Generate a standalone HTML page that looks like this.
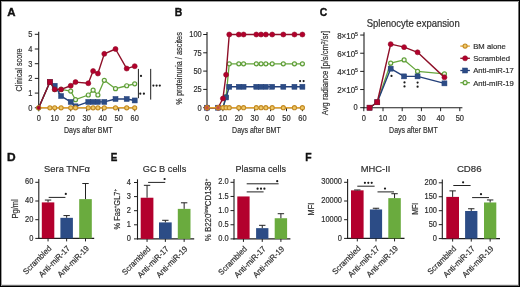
<!DOCTYPE html>
<html><head><meta charset="utf-8"><style>
html,body{margin:0;padding:0;background:#fff;}
#fig{position:relative;width:520px;height:287px;overflow:hidden;background:#fff;}
#fig svg{position:absolute;left:0;top:0;will-change:transform;}
#fig text{font-family:"Liberation Sans", sans-serif;}
.bd{position:absolute;left:0;top:0;width:520px;height:287px;box-sizing:border-box;border:1px solid #000;box-shadow:inset 1px 1px 0 #a0a0a0, inset -1px -1px 0 #707070, inset 0 -2px 0 #e2e2e2;}
</style></head><body>
<div id="fig">
<svg width="520" height="287" viewBox="0 0 520 287" font-family="Liberation Sans, sans-serif">
<text transform="translate(7.20 15.60) scale(1.1 1)" x="0" y="0" font-size="10.4" text-anchor="start" fill="#111" font-weight="bold" stroke="#111" stroke-width="0.35" >A</text>
<line x1="38.70" y1="31.80" x2="38.70" y2="108.30" stroke="#1e1e1e" stroke-width="1.1" />
<line x1="34.80" y1="107.80" x2="38.70" y2="107.80" stroke="#1e1e1e" stroke-width="1.0" />
<text transform="translate(32.50 110.70) scale(0.9 1)" x="0" y="0" font-size="8.3" text-anchor="end" fill="#2f2f2f" font-weight="normal" stroke="#2f2f2f" stroke-width="0.2" >0</text>
<line x1="34.80" y1="93.10" x2="38.70" y2="93.10" stroke="#1e1e1e" stroke-width="1.0" />
<text transform="translate(32.50 96.00) scale(0.9 1)" x="0" y="0" font-size="8.3" text-anchor="end" fill="#2f2f2f" font-weight="normal" stroke="#2f2f2f" stroke-width="0.2" >1</text>
<line x1="34.80" y1="78.40" x2="38.70" y2="78.40" stroke="#1e1e1e" stroke-width="1.0" />
<text transform="translate(32.50 81.30) scale(0.9 1)" x="0" y="0" font-size="8.3" text-anchor="end" fill="#2f2f2f" font-weight="normal" stroke="#2f2f2f" stroke-width="0.2" >2</text>
<line x1="34.80" y1="63.70" x2="38.70" y2="63.70" stroke="#1e1e1e" stroke-width="1.0" />
<text transform="translate(32.50 66.60) scale(0.9 1)" x="0" y="0" font-size="8.3" text-anchor="end" fill="#2f2f2f" font-weight="normal" stroke="#2f2f2f" stroke-width="0.2" >3</text>
<line x1="34.80" y1="49.00" x2="38.70" y2="49.00" stroke="#1e1e1e" stroke-width="1.0" />
<text transform="translate(32.50 51.90) scale(0.9 1)" x="0" y="0" font-size="8.3" text-anchor="end" fill="#2f2f2f" font-weight="normal" stroke="#2f2f2f" stroke-width="0.2" >4</text>
<line x1="34.80" y1="34.30" x2="38.70" y2="34.30" stroke="#1e1e1e" stroke-width="1.0" />
<text transform="translate(32.50 37.20) scale(0.9 1)" x="0" y="0" font-size="8.3" text-anchor="end" fill="#2f2f2f" font-weight="normal" stroke="#2f2f2f" stroke-width="0.2" >5</text>
<line x1="38.20" y1="107.80" x2="134.90" y2="107.80" stroke="#1e1e1e" stroke-width="1.1" />
<line x1="38.70" y1="107.80" x2="38.70" y2="111.30" stroke="#1e1e1e" stroke-width="1.0" />
<text transform="translate(38.70 120.90) scale(0.9 1)" x="0" y="0" font-size="8.3" text-anchor="middle" fill="#2f2f2f" font-weight="normal" stroke="#2f2f2f" stroke-width="0.2" >0</text>
<line x1="54.70" y1="107.80" x2="54.70" y2="111.30" stroke="#1e1e1e" stroke-width="1.0" />
<text transform="translate(54.70 120.90) scale(0.9 1)" x="0" y="0" font-size="8.3" text-anchor="middle" fill="#2f2f2f" font-weight="normal" stroke="#2f2f2f" stroke-width="0.2" >10</text>
<line x1="70.70" y1="107.80" x2="70.70" y2="111.30" stroke="#1e1e1e" stroke-width="1.0" />
<text transform="translate(70.70 120.90) scale(0.9 1)" x="0" y="0" font-size="8.3" text-anchor="middle" fill="#2f2f2f" font-weight="normal" stroke="#2f2f2f" stroke-width="0.2" >20</text>
<line x1="86.70" y1="107.80" x2="86.70" y2="111.30" stroke="#1e1e1e" stroke-width="1.0" />
<text transform="translate(86.70 120.90) scale(0.9 1)" x="0" y="0" font-size="8.3" text-anchor="middle" fill="#2f2f2f" font-weight="normal" stroke="#2f2f2f" stroke-width="0.2" >30</text>
<line x1="102.70" y1="107.80" x2="102.70" y2="111.30" stroke="#1e1e1e" stroke-width="1.0" />
<text transform="translate(102.70 120.90) scale(0.9 1)" x="0" y="0" font-size="8.3" text-anchor="middle" fill="#2f2f2f" font-weight="normal" stroke="#2f2f2f" stroke-width="0.2" >40</text>
<line x1="118.70" y1="107.80" x2="118.70" y2="111.30" stroke="#1e1e1e" stroke-width="1.0" />
<text transform="translate(118.70 120.90) scale(0.9 1)" x="0" y="0" font-size="8.3" text-anchor="middle" fill="#2f2f2f" font-weight="normal" stroke="#2f2f2f" stroke-width="0.2" >50</text>
<line x1="134.70" y1="107.80" x2="134.70" y2="111.30" stroke="#1e1e1e" stroke-width="1.0" />
<text transform="translate(134.70 120.90) scale(0.9 1)" x="0" y="0" font-size="8.3" text-anchor="middle" fill="#2f2f2f" font-weight="normal" stroke="#2f2f2f" stroke-width="0.2" >60</text>
<text x="88.30" y="133.20" font-size="9.9" text-anchor="middle" fill="#2f2f2f" font-weight="normal" textLength="48.6" lengthAdjust="spacingAndGlyphs" stroke="#2f2f2f" stroke-width="0.2" >Days after BMT</text>
<text x="22.40" y="69.90" font-size="8.3" text-anchor="middle" fill="#2f2f2f" stroke="#2f2f2f" stroke-width="0.2" transform="rotate(-90 22.40 69.90)" textLength="43" lengthAdjust="spacingAndGlyphs">Clinical score</text>
<polyline points="38.70,107.80 49.90,82.08 54.70,89.42 61.10,89.42 70.70,91.04 75.50,99.72 88.30,95.01 93.10,90.16 97.90,95.01 104.30,80.31 115.50,88.69 126.70,85.75 134.70,83.84" fill="none" stroke="#66a63c" stroke-width="1.3" stroke-linejoin="round"/>
<circle cx="38.70" cy="107.80" r="2.0" fill="#f4f8ee" stroke="#5f9f38" stroke-width="1.2"/>
<circle cx="49.90" cy="82.08" r="2.0" fill="#f4f8ee" stroke="#5f9f38" stroke-width="1.2"/>
<circle cx="54.70" cy="89.42" r="2.0" fill="#f4f8ee" stroke="#5f9f38" stroke-width="1.2"/>
<circle cx="61.10" cy="89.42" r="2.0" fill="#f4f8ee" stroke="#5f9f38" stroke-width="1.2"/>
<circle cx="70.70" cy="91.04" r="2.0" fill="#f4f8ee" stroke="#5f9f38" stroke-width="1.2"/>
<circle cx="75.50" cy="99.72" r="2.0" fill="#f4f8ee" stroke="#5f9f38" stroke-width="1.2"/>
<circle cx="88.30" cy="95.01" r="2.0" fill="#f4f8ee" stroke="#5f9f38" stroke-width="1.2"/>
<circle cx="93.10" cy="90.16" r="2.0" fill="#f4f8ee" stroke="#5f9f38" stroke-width="1.2"/>
<circle cx="97.90" cy="95.01" r="2.0" fill="#f4f8ee" stroke="#5f9f38" stroke-width="1.2"/>
<circle cx="104.30" cy="80.31" r="2.0" fill="#f4f8ee" stroke="#5f9f38" stroke-width="1.2"/>
<circle cx="115.50" cy="88.69" r="2.0" fill="#f4f8ee" stroke="#5f9f38" stroke-width="1.2"/>
<circle cx="126.70" cy="85.75" r="2.0" fill="#f4f8ee" stroke="#5f9f38" stroke-width="1.2"/>
<circle cx="134.70" cy="83.84" r="2.0" fill="#f4f8ee" stroke="#5f9f38" stroke-width="1.2"/>
<polyline points="38.70,107.80 49.90,82.08 54.70,85.75 61.10,96.04 70.70,101.92 75.50,106.33 88.30,101.92 93.10,101.92 97.90,101.92 104.30,101.92 115.50,98.98 126.70,98.98 134.70,100.45" fill="none" stroke="#24407a" stroke-width="1.4" stroke-linejoin="round"/>
<rect x="47.40" y="79.58" width="5.00" height="5.00" fill="#2c4c86" stroke="#24407a" stroke-width="0.5"/>
<rect x="52.20" y="83.25" width="5.00" height="5.00" fill="#2c4c86" stroke="#24407a" stroke-width="0.5"/>
<rect x="58.60" y="93.54" width="5.00" height="5.00" fill="#2c4c86" stroke="#24407a" stroke-width="0.5"/>
<rect x="68.20" y="99.42" width="5.00" height="5.00" fill="#2c4c86" stroke="#24407a" stroke-width="0.5"/>
<rect x="73.00" y="103.83" width="5.00" height="5.00" fill="#2c4c86" stroke="#24407a" stroke-width="0.5"/>
<rect x="85.80" y="99.42" width="5.00" height="5.00" fill="#2c4c86" stroke="#24407a" stroke-width="0.5"/>
<rect x="90.60" y="99.42" width="5.00" height="5.00" fill="#2c4c86" stroke="#24407a" stroke-width="0.5"/>
<rect x="95.40" y="99.42" width="5.00" height="5.00" fill="#2c4c86" stroke="#24407a" stroke-width="0.5"/>
<rect x="101.80" y="99.42" width="5.00" height="5.00" fill="#2c4c86" stroke="#24407a" stroke-width="0.5"/>
<rect x="113.00" y="96.48" width="5.00" height="5.00" fill="#2c4c86" stroke="#24407a" stroke-width="0.5"/>
<rect x="124.20" y="96.48" width="5.00" height="5.00" fill="#2c4c86" stroke="#24407a" stroke-width="0.5"/>
<rect x="132.20" y="97.95" width="5.00" height="5.00" fill="#2c4c86" stroke="#24407a" stroke-width="0.5"/>
<polyline points="38.70,107.80 49.90,82.08 54.70,89.42 61.10,89.42 70.70,85.75 75.50,82.08 88.30,83.25 93.10,71.05 97.90,73.55 104.30,53.85 115.50,49.00 126.70,68.55 134.70,66.20" fill="none" stroke="#8e1028" stroke-width="1.4" stroke-linejoin="round"/>
<circle cx="54.70" cy="89.42" r="2.5" fill="#b3002d" stroke="#8e1028" stroke-width="0.6"/>
<circle cx="61.10" cy="89.42" r="2.5" fill="#b3002d" stroke="#8e1028" stroke-width="0.6"/>
<circle cx="70.70" cy="85.75" r="2.5" fill="#b3002d" stroke="#8e1028" stroke-width="0.6"/>
<circle cx="75.50" cy="82.08" r="2.5" fill="#b3002d" stroke="#8e1028" stroke-width="0.6"/>
<circle cx="88.30" cy="83.25" r="2.5" fill="#b3002d" stroke="#8e1028" stroke-width="0.6"/>
<circle cx="93.10" cy="71.05" r="2.5" fill="#b3002d" stroke="#8e1028" stroke-width="0.6"/>
<circle cx="97.90" cy="73.55" r="2.5" fill="#b3002d" stroke="#8e1028" stroke-width="0.6"/>
<circle cx="104.30" cy="53.85" r="2.5" fill="#b3002d" stroke="#8e1028" stroke-width="0.6"/>
<circle cx="115.50" cy="49.00" r="2.5" fill="#b3002d" stroke="#8e1028" stroke-width="0.6"/>
<circle cx="126.70" cy="68.55" r="2.5" fill="#b3002d" stroke="#8e1028" stroke-width="0.6"/>
<circle cx="134.70" cy="66.20" r="2.5" fill="#b3002d" stroke="#8e1028" stroke-width="0.6"/>
<rect x="47.40" y="79.58" width="5.00" height="5.00" fill="#b3002d" stroke="#8e1028" stroke-width="0.6"/>
<polyline points="38.70,107.80 49.90,107.80 54.70,107.80 61.10,107.80 70.70,107.80 75.50,107.80 88.30,107.80 93.10,107.80 97.90,107.80 104.30,107.80 115.50,107.80 126.70,107.80 134.70,107.80" fill="none" stroke="#e0a232" stroke-width="1.6" stroke-linejoin="round"/>
<circle cx="38.70" cy="107.80" r="2.05" fill="#efc868" stroke="#c38a22" stroke-width="1.1"/>
<circle cx="49.90" cy="107.80" r="2.05" fill="#efc868" stroke="#c38a22" stroke-width="1.1"/>
<circle cx="54.70" cy="107.80" r="2.05" fill="#efc868" stroke="#c38a22" stroke-width="1.1"/>
<circle cx="61.10" cy="107.80" r="2.05" fill="#efc868" stroke="#c38a22" stroke-width="1.1"/>
<circle cx="70.70" cy="107.80" r="2.05" fill="#efc868" stroke="#c38a22" stroke-width="1.1"/>
<circle cx="75.50" cy="107.80" r="2.05" fill="#efc868" stroke="#c38a22" stroke-width="1.1"/>
<circle cx="88.30" cy="107.80" r="2.05" fill="#efc868" stroke="#c38a22" stroke-width="1.1"/>
<circle cx="93.10" cy="107.80" r="2.05" fill="#efc868" stroke="#c38a22" stroke-width="1.1"/>
<circle cx="97.90" cy="107.80" r="2.05" fill="#efc868" stroke="#c38a22" stroke-width="1.1"/>
<circle cx="104.30" cy="107.80" r="2.05" fill="#efc868" stroke="#c38a22" stroke-width="1.1"/>
<circle cx="115.50" cy="107.80" r="2.05" fill="#efc868" stroke="#c38a22" stroke-width="1.1"/>
<circle cx="126.70" cy="107.80" r="2.05" fill="#efc868" stroke="#c38a22" stroke-width="1.1"/>
<circle cx="134.70" cy="107.80" r="2.05" fill="#efc868" stroke="#c38a22" stroke-width="1.1"/>
<circle cx="38.70" cy="107.80" r="1.7" fill="#b3002d" stroke="#8e1028" stroke-width="0.6"/>
<line x1="138.40" y1="68.90" x2="138.40" y2="98.20" stroke="#1e1e1e" stroke-width="1.0" />
<circle cx="141.00" cy="75.90" r="1.1" fill="#1a1a1a"/>
<circle cx="140.30" cy="93.70" r="1.1" fill="#1a1a1a"/>
<circle cx="143.90" cy="93.70" r="1.1" fill="#1a1a1a"/>
<line x1="150.70" y1="68.90" x2="150.70" y2="99.60" stroke="#1e1e1e" stroke-width="1.0" />
<circle cx="153.40" cy="85.60" r="1.1" fill="#1a1a1a"/>
<circle cx="156.60" cy="85.60" r="1.1" fill="#1a1a1a"/>
<circle cx="159.80" cy="85.60" r="1.1" fill="#1a1a1a"/>
<text transform="translate(174.80 16.00) scale(1.0 1)" x="0" y="0" font-size="10.4" text-anchor="start" fill="#111" font-weight="bold" stroke="#111" stroke-width="0.35" >B</text>
<line x1="207.00" y1="31.90" x2="207.00" y2="108.20" stroke="#1e1e1e" stroke-width="1.1" />
<line x1="203.20" y1="107.70" x2="207.00" y2="107.70" stroke="#1e1e1e" stroke-width="1.0" />
<text transform="translate(201.70 110.60) scale(0.9 1)" x="0" y="0" font-size="8.3" text-anchor="end" fill="#2f2f2f" font-weight="normal" stroke="#2f2f2f" stroke-width="0.2" >0</text>
<line x1="203.20" y1="89.40" x2="207.00" y2="89.40" stroke="#1e1e1e" stroke-width="1.0" />
<text transform="translate(201.70 92.30) scale(0.9 1)" x="0" y="0" font-size="8.3" text-anchor="end" fill="#2f2f2f" font-weight="normal" stroke="#2f2f2f" stroke-width="0.2" >25</text>
<line x1="203.20" y1="71.10" x2="207.00" y2="71.10" stroke="#1e1e1e" stroke-width="1.0" />
<text transform="translate(201.70 74.00) scale(0.9 1)" x="0" y="0" font-size="8.3" text-anchor="end" fill="#2f2f2f" font-weight="normal" stroke="#2f2f2f" stroke-width="0.2" >50</text>
<line x1="203.20" y1="52.80" x2="207.00" y2="52.80" stroke="#1e1e1e" stroke-width="1.0" />
<text transform="translate(201.70 55.70) scale(0.9 1)" x="0" y="0" font-size="8.3" text-anchor="end" fill="#2f2f2f" font-weight="normal" stroke="#2f2f2f" stroke-width="0.2" >75</text>
<line x1="203.20" y1="34.50" x2="207.00" y2="34.50" stroke="#1e1e1e" stroke-width="1.0" />
<text transform="translate(201.70 37.40) scale(0.9 1)" x="0" y="0" font-size="8.3" text-anchor="end" fill="#2f2f2f" font-weight="normal" stroke="#2f2f2f" stroke-width="0.2" >100</text>
<line x1="206.50" y1="107.70" x2="302.60" y2="107.70" stroke="#1e1e1e" stroke-width="1.1" />
<line x1="207.00" y1="107.70" x2="207.00" y2="111.20" stroke="#1e1e1e" stroke-width="1.0" />
<text transform="translate(207.00 120.90) scale(0.9 1)" x="0" y="0" font-size="8.3" text-anchor="middle" fill="#2f2f2f" font-weight="normal" stroke="#2f2f2f" stroke-width="0.2" >0</text>
<line x1="222.90" y1="107.70" x2="222.90" y2="111.20" stroke="#1e1e1e" stroke-width="1.0" />
<text transform="translate(222.90 120.90) scale(0.9 1)" x="0" y="0" font-size="8.3" text-anchor="middle" fill="#2f2f2f" font-weight="normal" stroke="#2f2f2f" stroke-width="0.2" >10</text>
<line x1="238.80" y1="107.70" x2="238.80" y2="111.20" stroke="#1e1e1e" stroke-width="1.0" />
<text transform="translate(238.80 120.90) scale(0.9 1)" x="0" y="0" font-size="8.3" text-anchor="middle" fill="#2f2f2f" font-weight="normal" stroke="#2f2f2f" stroke-width="0.2" >20</text>
<line x1="254.70" y1="107.70" x2="254.70" y2="111.20" stroke="#1e1e1e" stroke-width="1.0" />
<text transform="translate(254.70 120.90) scale(0.9 1)" x="0" y="0" font-size="8.3" text-anchor="middle" fill="#2f2f2f" font-weight="normal" stroke="#2f2f2f" stroke-width="0.2" >30</text>
<line x1="270.60" y1="107.70" x2="270.60" y2="111.20" stroke="#1e1e1e" stroke-width="1.0" />
<text transform="translate(270.60 120.90) scale(0.9 1)" x="0" y="0" font-size="8.3" text-anchor="middle" fill="#2f2f2f" font-weight="normal" stroke="#2f2f2f" stroke-width="0.2" >40</text>
<line x1="286.50" y1="107.70" x2="286.50" y2="111.20" stroke="#1e1e1e" stroke-width="1.0" />
<text transform="translate(286.50 120.90) scale(0.9 1)" x="0" y="0" font-size="8.3" text-anchor="middle" fill="#2f2f2f" font-weight="normal" stroke="#2f2f2f" stroke-width="0.2" >50</text>
<line x1="302.40" y1="107.70" x2="302.40" y2="111.20" stroke="#1e1e1e" stroke-width="1.0" />
<text transform="translate(302.40 120.90) scale(0.9 1)" x="0" y="0" font-size="8.3" text-anchor="middle" fill="#2f2f2f" font-weight="normal" stroke="#2f2f2f" stroke-width="0.2" >60</text>
<text x="256.40" y="133.20" font-size="9.9" text-anchor="middle" fill="#2f2f2f" font-weight="normal" textLength="48.6" lengthAdjust="spacingAndGlyphs" stroke="#2f2f2f" stroke-width="0.2" >Days after BMT</text>
<text x="181.80" y="68.40" font-size="8.6" text-anchor="middle" fill="#2f2f2f" stroke="#2f2f2f" stroke-width="0.2" transform="rotate(-90 181.80 68.40)" textLength="72.5" lengthAdjust="spacingAndGlyphs">% proteinuria / ascites</text>
<polyline points="207.00,107.70 218.13,107.70 222.90,107.70 226.08,96.72 229.26,63.78 238.80,63.78 243.57,63.78 256.29,63.78 261.06,63.78 265.83,63.78 272.19,63.78 283.32,63.78 294.45,63.78 302.40,63.78" fill="none" stroke="#66a63c" stroke-width="1.3" stroke-linejoin="round"/>
<circle cx="226.08" cy="96.72" r="2.0" fill="#f4f8ee" stroke="#5f9f38" stroke-width="1.2"/>
<circle cx="229.26" cy="63.78" r="2.0" fill="#f4f8ee" stroke="#5f9f38" stroke-width="1.2"/>
<circle cx="238.80" cy="63.78" r="2.0" fill="#f4f8ee" stroke="#5f9f38" stroke-width="1.2"/>
<circle cx="243.57" cy="63.78" r="2.0" fill="#f4f8ee" stroke="#5f9f38" stroke-width="1.2"/>
<circle cx="256.29" cy="63.78" r="2.0" fill="#f4f8ee" stroke="#5f9f38" stroke-width="1.2"/>
<circle cx="261.06" cy="63.78" r="2.0" fill="#f4f8ee" stroke="#5f9f38" stroke-width="1.2"/>
<circle cx="265.83" cy="63.78" r="2.0" fill="#f4f8ee" stroke="#5f9f38" stroke-width="1.2"/>
<circle cx="272.19" cy="63.78" r="2.0" fill="#f4f8ee" stroke="#5f9f38" stroke-width="1.2"/>
<circle cx="283.32" cy="63.78" r="2.0" fill="#f4f8ee" stroke="#5f9f38" stroke-width="1.2"/>
<circle cx="294.45" cy="63.78" r="2.0" fill="#f4f8ee" stroke="#5f9f38" stroke-width="1.2"/>
<circle cx="302.40" cy="63.78" r="2.0" fill="#f4f8ee" stroke="#5f9f38" stroke-width="1.2"/>
<polyline points="207.00,107.70 218.13,107.70 222.90,107.70 226.08,97.45 229.26,86.76 238.80,86.76 243.57,86.76 256.29,86.76 261.06,86.76 265.83,86.76 272.19,86.76 283.32,86.76 294.45,86.76 302.40,86.76" fill="none" stroke="#24407a" stroke-width="1.4" stroke-linejoin="round"/>
<rect x="204.50" y="105.20" width="5.00" height="5.00" fill="#2c4c86" stroke="#24407a" stroke-width="0.5"/>
<rect x="215.63" y="105.20" width="5.00" height="5.00" fill="#2c4c86" stroke="#24407a" stroke-width="0.5"/>
<rect x="223.58" y="94.95" width="5.00" height="5.00" fill="#2c4c86" stroke="#24407a" stroke-width="0.5"/>
<rect x="226.76" y="84.26" width="5.00" height="5.00" fill="#2c4c86" stroke="#24407a" stroke-width="0.5"/>
<rect x="236.30" y="84.26" width="5.00" height="5.00" fill="#2c4c86" stroke="#24407a" stroke-width="0.5"/>
<rect x="241.07" y="84.26" width="5.00" height="5.00" fill="#2c4c86" stroke="#24407a" stroke-width="0.5"/>
<rect x="253.79" y="84.26" width="5.00" height="5.00" fill="#2c4c86" stroke="#24407a" stroke-width="0.5"/>
<rect x="258.56" y="84.26" width="5.00" height="5.00" fill="#2c4c86" stroke="#24407a" stroke-width="0.5"/>
<rect x="263.33" y="84.26" width="5.00" height="5.00" fill="#2c4c86" stroke="#24407a" stroke-width="0.5"/>
<rect x="269.69" y="84.26" width="5.00" height="5.00" fill="#2c4c86" stroke="#24407a" stroke-width="0.5"/>
<rect x="280.82" y="84.26" width="5.00" height="5.00" fill="#2c4c86" stroke="#24407a" stroke-width="0.5"/>
<rect x="291.95" y="84.26" width="5.00" height="5.00" fill="#2c4c86" stroke="#24407a" stroke-width="0.5"/>
<rect x="299.90" y="84.26" width="5.00" height="5.00" fill="#2c4c86" stroke="#24407a" stroke-width="0.5"/>
<polyline points="207.00,107.70 218.13,107.70 222.90,98.55 226.08,74.76 229.26,34.50 238.80,34.50 243.57,34.50 256.29,34.50 261.06,34.50 265.83,34.50 272.19,34.50 283.32,34.50 294.45,34.50 302.40,34.50" fill="none" stroke="#8e1028" stroke-width="1.4" stroke-linejoin="round"/>
<circle cx="207.00" cy="107.70" r="2.5" fill="#b3002d" stroke="#8e1028" stroke-width="0.6"/>
<circle cx="218.13" cy="107.70" r="2.5" fill="#b3002d" stroke="#8e1028" stroke-width="0.6"/>
<circle cx="222.90" cy="98.55" r="2.5" fill="#b3002d" stroke="#8e1028" stroke-width="0.6"/>
<circle cx="226.08" cy="74.76" r="2.5" fill="#b3002d" stroke="#8e1028" stroke-width="0.6"/>
<circle cx="229.26" cy="34.50" r="2.5" fill="#b3002d" stroke="#8e1028" stroke-width="0.6"/>
<circle cx="238.80" cy="34.50" r="2.5" fill="#b3002d" stroke="#8e1028" stroke-width="0.6"/>
<circle cx="243.57" cy="34.50" r="2.5" fill="#b3002d" stroke="#8e1028" stroke-width="0.6"/>
<circle cx="256.29" cy="34.50" r="2.5" fill="#b3002d" stroke="#8e1028" stroke-width="0.6"/>
<circle cx="261.06" cy="34.50" r="2.5" fill="#b3002d" stroke="#8e1028" stroke-width="0.6"/>
<circle cx="265.83" cy="34.50" r="2.5" fill="#b3002d" stroke="#8e1028" stroke-width="0.6"/>
<circle cx="272.19" cy="34.50" r="2.5" fill="#b3002d" stroke="#8e1028" stroke-width="0.6"/>
<circle cx="283.32" cy="34.50" r="2.5" fill="#b3002d" stroke="#8e1028" stroke-width="0.6"/>
<circle cx="294.45" cy="34.50" r="2.5" fill="#b3002d" stroke="#8e1028" stroke-width="0.6"/>
<circle cx="302.40" cy="34.50" r="2.5" fill="#b3002d" stroke="#8e1028" stroke-width="0.6"/>
<polyline points="207.00,107.70 218.13,107.70 222.90,107.70 226.08,107.70 229.26,107.70 238.80,107.70 243.57,107.70 256.29,107.70 261.06,107.70 265.83,107.70 272.19,107.70 283.32,107.70 294.45,107.70 302.40,107.70" fill="none" stroke="#e0a232" stroke-width="1.6" stroke-linejoin="round"/>
<circle cx="207.00" cy="107.70" r="2.05" fill="#efc868" stroke="#c38a22" stroke-width="1.1"/>
<circle cx="218.13" cy="107.70" r="2.05" fill="#efc868" stroke="#c38a22" stroke-width="1.1"/>
<circle cx="222.90" cy="107.70" r="2.05" fill="#efc868" stroke="#c38a22" stroke-width="1.1"/>
<circle cx="226.08" cy="107.70" r="2.05" fill="#efc868" stroke="#c38a22" stroke-width="1.1"/>
<circle cx="229.26" cy="107.70" r="2.05" fill="#efc868" stroke="#c38a22" stroke-width="1.1"/>
<circle cx="238.80" cy="107.70" r="2.05" fill="#efc868" stroke="#c38a22" stroke-width="1.1"/>
<circle cx="243.57" cy="107.70" r="2.05" fill="#efc868" stroke="#c38a22" stroke-width="1.1"/>
<circle cx="256.29" cy="107.70" r="2.05" fill="#efc868" stroke="#c38a22" stroke-width="1.1"/>
<circle cx="261.06" cy="107.70" r="2.05" fill="#efc868" stroke="#c38a22" stroke-width="1.1"/>
<circle cx="265.83" cy="107.70" r="2.05" fill="#efc868" stroke="#c38a22" stroke-width="1.1"/>
<circle cx="272.19" cy="107.70" r="2.05" fill="#efc868" stroke="#c38a22" stroke-width="1.1"/>
<circle cx="283.32" cy="107.70" r="2.05" fill="#efc868" stroke="#c38a22" stroke-width="1.1"/>
<circle cx="294.45" cy="107.70" r="2.05" fill="#efc868" stroke="#c38a22" stroke-width="1.1"/>
<circle cx="302.40" cy="107.70" r="2.05" fill="#efc868" stroke="#c38a22" stroke-width="1.1"/>
<circle cx="207.00" cy="107.70" r="1.6" fill="#b3002d" fill-opacity="0.6"/>
<circle cx="218.13" cy="107.70" r="1.6" fill="#b3002d" fill-opacity="0.6"/>
<circle cx="300.10" cy="81.10" r="1.1" fill="#1a1a1a"/>
<circle cx="303.60" cy="81.10" r="1.1" fill="#1a1a1a"/>
<text transform="translate(319.70 16.10) scale(1.0 1)" x="0" y="0" font-size="10.4" text-anchor="start" fill="#111" font-weight="bold" stroke="#111" stroke-width="0.35" >C</text>
<text x="413.20" y="26.80" font-size="10.1" text-anchor="middle" fill="#2f2f2f" font-weight="normal" textLength="93" lengthAdjust="spacingAndGlyphs" stroke="#2f2f2f" stroke-width="0.2" >Splenocyte expansion</text>
<line x1="364.00" y1="32.30" x2="364.00" y2="108.20" stroke="#1e1e1e" stroke-width="1.1" />
<line x1="360.20" y1="107.70" x2="364.00" y2="107.70" stroke="#1e1e1e" stroke-width="1.0" />
<text transform="translate(357.60 110.40) scale(0.9 1)" x="0" y="0" font-size="8.3" text-anchor="end" fill="#2f2f2f" font-weight="normal" stroke="#2f2f2f" stroke-width="0.2" >0</text>
<line x1="360.20" y1="89.54" x2="364.00" y2="89.54" stroke="#1e1e1e" stroke-width="1.0" />
<text transform="translate(358.0 93.44) scale(0.96 1)" x="0" y="0" font-size="8.3" text-anchor="end" fill="#2f2f2f" stroke="#2f2f2f" stroke-width="0.2">2×10<tspan font-size="5.4" dy="-3.3">5</tspan></text>
<line x1="360.20" y1="71.38" x2="364.00" y2="71.38" stroke="#1e1e1e" stroke-width="1.0" />
<text transform="translate(358.0 75.28) scale(0.96 1)" x="0" y="0" font-size="8.3" text-anchor="end" fill="#2f2f2f" stroke="#2f2f2f" stroke-width="0.2">4×10<tspan font-size="5.4" dy="-3.3">5</tspan></text>
<line x1="360.20" y1="53.22" x2="364.00" y2="53.22" stroke="#1e1e1e" stroke-width="1.0" />
<text transform="translate(358.0 57.12) scale(0.96 1)" x="0" y="0" font-size="8.3" text-anchor="end" fill="#2f2f2f" stroke="#2f2f2f" stroke-width="0.2">6×10<tspan font-size="5.4" dy="-3.3">5</tspan></text>
<line x1="360.20" y1="35.06" x2="364.00" y2="35.06" stroke="#1e1e1e" stroke-width="1.0" />
<text transform="translate(358.0 38.96) scale(0.96 1)" x="0" y="0" font-size="8.3" text-anchor="end" fill="#2f2f2f" stroke="#2f2f2f" stroke-width="0.2">8×10<tspan font-size="5.4" dy="-3.3">5</tspan></text>
<line x1="363.50" y1="107.70" x2="462.40" y2="107.70" stroke="#1e1e1e" stroke-width="1.1" />
<line x1="363.80" y1="107.70" x2="363.80" y2="111.20" stroke="#1e1e1e" stroke-width="1.0" />
<text transform="translate(363.80 120.90) scale(0.9 1)" x="0" y="0" font-size="8.3" text-anchor="middle" fill="#2f2f2f" font-weight="normal" stroke="#2f2f2f" stroke-width="0.2" >0</text>
<line x1="383.00" y1="107.70" x2="383.00" y2="111.20" stroke="#1e1e1e" stroke-width="1.0" />
<text transform="translate(383.00 120.90) scale(0.9 1)" x="0" y="0" font-size="8.3" text-anchor="middle" fill="#2f2f2f" font-weight="normal" stroke="#2f2f2f" stroke-width="0.2" >10</text>
<line x1="402.20" y1="107.70" x2="402.20" y2="111.20" stroke="#1e1e1e" stroke-width="1.0" />
<text transform="translate(402.20 120.90) scale(0.9 1)" x="0" y="0" font-size="8.3" text-anchor="middle" fill="#2f2f2f" font-weight="normal" stroke="#2f2f2f" stroke-width="0.2" >20</text>
<line x1="421.40" y1="107.70" x2="421.40" y2="111.20" stroke="#1e1e1e" stroke-width="1.0" />
<text transform="translate(421.40 120.90) scale(0.9 1)" x="0" y="0" font-size="8.3" text-anchor="middle" fill="#2f2f2f" font-weight="normal" stroke="#2f2f2f" stroke-width="0.2" >30</text>
<line x1="440.60" y1="107.70" x2="440.60" y2="111.20" stroke="#1e1e1e" stroke-width="1.0" />
<text transform="translate(440.60 120.90) scale(0.9 1)" x="0" y="0" font-size="8.3" text-anchor="middle" fill="#2f2f2f" font-weight="normal" stroke="#2f2f2f" stroke-width="0.2" >40</text>
<line x1="459.80" y1="107.70" x2="459.80" y2="111.20" stroke="#1e1e1e" stroke-width="1.0" />
<text transform="translate(459.80 120.90) scale(0.9 1)" x="0" y="0" font-size="8.3" text-anchor="middle" fill="#2f2f2f" font-weight="normal" stroke="#2f2f2f" stroke-width="0.2" >50</text>
<text x="413.40" y="133.20" font-size="9.9" text-anchor="middle" fill="#2f2f2f" font-weight="normal" textLength="48.6" lengthAdjust="spacingAndGlyphs" stroke="#2f2f2f" stroke-width="0.2" >Days after BMT</text>
<text x="327.8" y="73.0" font-size="8.7" text-anchor="middle" fill="#2f2f2f" stroke="#2f2f2f" stroke-width="0.2" transform="rotate(-90 327.8 73.0)" textLength="84.5" lengthAdjust="spacingAndGlyphs">Avg radiance [p/s/cm<tspan font-size="5.5" dy="-3">2</tspan><tspan dy="3">/sr]</tspan></text>
<polyline points="369.56,107.70 377.24,102.25 390.68,63.21 404.12,59.94 417.56,71.38 444.44,73.83" fill="none" stroke="#66a63c" stroke-width="1.3" stroke-linejoin="round"/>
<circle cx="369.56" cy="107.70" r="2.0" fill="#f4f8ee" stroke="#5f9f38" stroke-width="1.2"/>
<circle cx="377.24" cy="102.25" r="2.0" fill="#f4f8ee" stroke="#5f9f38" stroke-width="1.2"/>
<circle cx="390.68" cy="63.21" r="2.0" fill="#f4f8ee" stroke="#5f9f38" stroke-width="1.2"/>
<circle cx="404.12" cy="59.94" r="2.0" fill="#f4f8ee" stroke="#5f9f38" stroke-width="1.2"/>
<circle cx="417.56" cy="71.38" r="2.0" fill="#f4f8ee" stroke="#5f9f38" stroke-width="1.2"/>
<circle cx="444.44" cy="73.83" r="2.0" fill="#f4f8ee" stroke="#5f9f38" stroke-width="1.2"/>
<polyline points="369.56,107.70 377.24,102.25 390.68,68.66 404.12,76.37 417.56,76.37 444.44,83.37" fill="none" stroke="#24407a" stroke-width="1.4" stroke-linejoin="round"/>
<rect x="367.06" y="105.20" width="5.00" height="5.00" fill="#2c4c86" stroke="#24407a" stroke-width="0.5"/>
<rect x="374.74" y="99.75" width="5.00" height="5.00" fill="#2c4c86" stroke="#24407a" stroke-width="0.5"/>
<rect x="388.18" y="66.16" width="5.00" height="5.00" fill="#2c4c86" stroke="#24407a" stroke-width="0.5"/>
<rect x="401.62" y="73.87" width="5.00" height="5.00" fill="#2c4c86" stroke="#24407a" stroke-width="0.5"/>
<rect x="415.06" y="73.87" width="5.00" height="5.00" fill="#2c4c86" stroke="#24407a" stroke-width="0.5"/>
<rect x="441.94" y="80.87" width="5.00" height="5.00" fill="#2c4c86" stroke="#24407a" stroke-width="0.5"/>
<polyline points="369.56,107.70 377.24,102.25 390.68,44.14 404.12,47.14 417.56,52.31 444.44,77.37" fill="none" stroke="#8e1028" stroke-width="1.4" stroke-linejoin="round"/>
<circle cx="390.68" cy="44.14" r="2.5" fill="#b3002d" stroke="#8e1028" stroke-width="0.6"/>
<circle cx="404.12" cy="47.14" r="2.5" fill="#b3002d" stroke="#8e1028" stroke-width="0.6"/>
<circle cx="417.56" cy="52.31" r="2.5" fill="#b3002d" stroke="#8e1028" stroke-width="0.6"/>
<circle cx="444.44" cy="77.37" r="2.5" fill="#b3002d" stroke="#8e1028" stroke-width="0.6"/>
<rect x="367.06" y="105.20" width="5.00" height="5.00" fill="#b3002d" stroke="#8e1028" stroke-width="0.6"/>
<rect x="374.74" y="99.75" width="5.00" height="5.00" fill="#b3002d" stroke="#8e1028" stroke-width="0.6"/>
<circle cx="391.50" cy="75.90" r="1.1" fill="#1a1a1a"/>
<circle cx="404.50" cy="82.40" r="1.1" fill="#1a1a1a"/>
<circle cx="404.50" cy="86.40" r="1.1" fill="#1a1a1a"/>
<circle cx="417.60" cy="82.60" r="1.1" fill="#1a1a1a"/>
<circle cx="417.60" cy="86.70" r="1.1" fill="#1a1a1a"/>
<line x1="460.30" y1="46.10" x2="469.90" y2="46.10" stroke="#e0a232" stroke-width="1.3" />
<circle cx="465.10" cy="46.10" r="2.05" fill="#efc868" stroke="#c38a22" stroke-width="1.1"/>
<text transform="translate(473.20 48.90) scale(0.975 1)" x="0" y="0" font-size="7.9" text-anchor="start" fill="#2f2f2f" font-weight="normal" stroke="#2f2f2f" stroke-width="0.2" >BM alone</text>
<line x1="460.30" y1="58.30" x2="469.90" y2="58.30" stroke="#8e1028" stroke-width="1.3" />
<circle cx="465.10" cy="58.30" r="2.5" fill="#b3002d" stroke="#8e1028" stroke-width="0.6"/>
<text transform="translate(473.20 61.10) scale(0.975 1)" x="0" y="0" font-size="7.9" text-anchor="start" fill="#2f2f2f" font-weight="normal" stroke="#2f2f2f" stroke-width="0.2" >Scrambled</text>
<line x1="460.30" y1="70.50" x2="469.90" y2="70.50" stroke="#24407a" stroke-width="1.3" />
<rect x="462.60" y="68.00" width="5.00" height="5.00" fill="#2c4c86" stroke="#24407a" stroke-width="0.5"/>
<text transform="translate(473.20 73.30) scale(0.975 1)" x="0" y="0" font-size="7.9" text-anchor="start" fill="#2f2f2f" font-weight="normal" stroke="#2f2f2f" stroke-width="0.2" >Anti-miR-17</text>
<line x1="460.30" y1="82.70" x2="469.90" y2="82.70" stroke="#66a63c" stroke-width="1.3" />
<circle cx="465.10" cy="82.70" r="2.0" fill="#f4f8ee" stroke="#5f9f38" stroke-width="1.2"/>
<text transform="translate(473.20 85.50) scale(0.975 1)" x="0" y="0" font-size="7.9" text-anchor="start" fill="#2f2f2f" font-weight="normal" stroke="#2f2f2f" stroke-width="0.2" >Anti-miR-19</text>
<text transform="translate(7.10 160.50) scale(1.15 1)" x="0" y="0" font-size="10.4" text-anchor="start" fill="#111" font-weight="bold" stroke="#111" stroke-width="0.35" >D</text>
<line x1="38.80" y1="179.10" x2="38.80" y2="238.90" stroke="#1e1e1e" stroke-width="1.1" />
<line x1="35.30" y1="238.40" x2="38.80" y2="238.40" stroke="#1e1e1e" stroke-width="1.0" />
<text transform="translate(33.40 240.50) scale(0.9 1)" x="0" y="0" font-size="8.3" text-anchor="end" fill="#2f2f2f" font-weight="normal" stroke="#2f2f2f" stroke-width="0.2" >0</text>
<line x1="35.30" y1="219.70" x2="38.80" y2="219.70" stroke="#1e1e1e" stroke-width="1.0" />
<text transform="translate(33.40 221.80) scale(0.9 1)" x="0" y="0" font-size="8.3" text-anchor="end" fill="#2f2f2f" font-weight="normal" stroke="#2f2f2f" stroke-width="0.2" >20</text>
<line x1="35.30" y1="201.00" x2="38.80" y2="201.00" stroke="#1e1e1e" stroke-width="1.0" />
<text transform="translate(33.40 203.10) scale(0.9 1)" x="0" y="0" font-size="8.3" text-anchor="end" fill="#2f2f2f" font-weight="normal" stroke="#2f2f2f" stroke-width="0.2" >40</text>
<line x1="35.30" y1="182.30" x2="38.80" y2="182.30" stroke="#1e1e1e" stroke-width="1.0" />
<text transform="translate(33.40 184.40) scale(0.9 1)" x="0" y="0" font-size="8.3" text-anchor="end" fill="#2f2f2f" font-weight="normal" stroke="#2f2f2f" stroke-width="0.2" >60</text>
<line x1="38.30" y1="238.40" x2="94.20" y2="238.40" stroke="#1e1e1e" stroke-width="1.1" />
<rect x="41.80" y="202.40" width="12.50" height="36.00" fill="#b3002d" stroke="none" stroke-width="0"/>
<line x1="48.05" y1="200.06" x2="48.05" y2="202.40" stroke="#222" stroke-width="1.0" />
<line x1="44.85" y1="200.06" x2="51.25" y2="200.06" stroke="#222" stroke-width="1.0" />
<line x1="48.05" y1="238.40" x2="48.05" y2="241.40" stroke="#1e1e1e" stroke-width="1.0" />
<text x="52.05" y="249.00" font-size="8.1" text-anchor="end" fill="#2f2f2f" stroke="#2f2f2f" stroke-width="0.2" transform="rotate(-45 52.05 249.00)" textLength="36.6" lengthAdjust="spacingAndGlyphs">Scrambled</text>
<rect x="60.40" y="217.83" width="12.50" height="20.57" fill="#2c4c86" stroke="none" stroke-width="0"/>
<line x1="66.65" y1="215.59" x2="66.65" y2="217.83" stroke="#222" stroke-width="1.0" />
<line x1="63.45" y1="215.59" x2="69.85" y2="215.59" stroke="#222" stroke-width="1.0" />
<line x1="66.65" y1="238.40" x2="66.65" y2="241.40" stroke="#1e1e1e" stroke-width="1.0" />
<text x="70.65" y="249.00" font-size="8.1" text-anchor="end" fill="#2f2f2f" stroke="#2f2f2f" stroke-width="0.2" transform="rotate(-45 70.65 249.00)" textLength="40.6" lengthAdjust="spacingAndGlyphs">Anti-miR-17</text>
<rect x="79.20" y="199.13" width="12.60" height="39.27" fill="#6aab3e" stroke="none" stroke-width="0"/>
<line x1="85.50" y1="183.52" x2="85.50" y2="199.13" stroke="#222" stroke-width="1.0" />
<line x1="82.30" y1="183.52" x2="88.70" y2="183.52" stroke="#222" stroke-width="1.0" />
<line x1="85.50" y1="238.40" x2="85.50" y2="241.40" stroke="#1e1e1e" stroke-width="1.0" />
<text x="89.50" y="249.00" font-size="8.1" text-anchor="end" fill="#2f2f2f" stroke="#2f2f2f" stroke-width="0.2" transform="rotate(-45 89.50 249.00)" textLength="40.6" lengthAdjust="spacingAndGlyphs">Anti-miR-19</text>
<line x1="48.70" y1="197.40" x2="65.40" y2="197.40" stroke="#222" stroke-width="1.0" />
<circle cx="65.80" cy="193.90" r="1.1" fill="#1a1a1a"/>
<text x="18.10" y="208.90" font-size="9.4" text-anchor="middle" fill="#2f2f2f" stroke="#2f2f2f" stroke-width="0.2" transform="rotate(-90 18.10 208.90)" textLength="19.3" lengthAdjust="spacingAndGlyphs">Pg/ml</text>
<text x="67.00" y="171.70" font-size="9.9" text-anchor="middle" fill="#2f2f2f" font-weight="normal" textLength="45.9" lengthAdjust="spacingAndGlyphs" stroke="#2f2f2f" stroke-width="0.2" >Sera TNF&#945;</text>
<text transform="translate(110.80 160.80) scale(0.95 1)" x="0" y="0" font-size="10.4" text-anchor="start" fill="#111" font-weight="bold" stroke="#111" stroke-width="0.35" >E</text>
<line x1="137.50" y1="179.30" x2="137.50" y2="239.40" stroke="#1e1e1e" stroke-width="1.1" />
<line x1="134.00" y1="238.90" x2="137.50" y2="238.90" stroke="#1e1e1e" stroke-width="1.0" />
<text transform="translate(130.90 241.00) scale(0.9 1)" x="0" y="0" font-size="8.3" text-anchor="end" fill="#2f2f2f" font-weight="normal" stroke="#2f2f2f" stroke-width="0.2" >0</text>
<line x1="134.00" y1="224.80" x2="137.50" y2="224.80" stroke="#1e1e1e" stroke-width="1.0" />
<text transform="translate(130.90 226.90) scale(0.9 1)" x="0" y="0" font-size="8.3" text-anchor="end" fill="#2f2f2f" font-weight="normal" stroke="#2f2f2f" stroke-width="0.2" >1</text>
<line x1="134.00" y1="210.70" x2="137.50" y2="210.70" stroke="#1e1e1e" stroke-width="1.0" />
<text transform="translate(130.90 212.80) scale(0.9 1)" x="0" y="0" font-size="8.3" text-anchor="end" fill="#2f2f2f" font-weight="normal" stroke="#2f2f2f" stroke-width="0.2" >2</text>
<line x1="134.00" y1="196.60" x2="137.50" y2="196.60" stroke="#1e1e1e" stroke-width="1.0" />
<text transform="translate(130.90 198.70) scale(0.9 1)" x="0" y="0" font-size="8.3" text-anchor="end" fill="#2f2f2f" font-weight="normal" stroke="#2f2f2f" stroke-width="0.2" >3</text>
<line x1="134.00" y1="182.50" x2="137.50" y2="182.50" stroke="#1e1e1e" stroke-width="1.0" />
<text transform="translate(130.90 184.60) scale(0.9 1)" x="0" y="0" font-size="8.3" text-anchor="end" fill="#2f2f2f" font-weight="normal" stroke="#2f2f2f" stroke-width="0.2" >4</text>
<line x1="137.00" y1="238.90" x2="194.20" y2="238.90" stroke="#1e1e1e" stroke-width="1.1" />
<rect x="140.70" y="197.73" width="12.70" height="41.17" fill="#b3002d" stroke="none" stroke-width="0"/>
<line x1="147.05" y1="185.32" x2="147.05" y2="197.73" stroke="#222" stroke-width="1.0" />
<line x1="143.85" y1="185.32" x2="150.25" y2="185.32" stroke="#222" stroke-width="1.0" />
<line x1="147.05" y1="238.90" x2="147.05" y2="241.90" stroke="#1e1e1e" stroke-width="1.0" />
<text x="151.05" y="249.50" font-size="8.1" text-anchor="end" fill="#2f2f2f" stroke="#2f2f2f" stroke-width="0.2" transform="rotate(-45 151.05 249.50)" textLength="36.6" lengthAdjust="spacingAndGlyphs">Scrambled</text>
<rect x="159.00" y="222.40" width="12.70" height="16.50" fill="#2c4c86" stroke="none" stroke-width="0"/>
<line x1="165.35" y1="220.29" x2="165.35" y2="222.40" stroke="#222" stroke-width="1.0" />
<line x1="162.15" y1="220.29" x2="168.55" y2="220.29" stroke="#222" stroke-width="1.0" />
<line x1="165.35" y1="238.90" x2="165.35" y2="241.90" stroke="#1e1e1e" stroke-width="1.0" />
<text x="169.35" y="249.50" font-size="8.1" text-anchor="end" fill="#2f2f2f" stroke="#2f2f2f" stroke-width="0.2" transform="rotate(-45 169.35 249.50)" textLength="40.6" lengthAdjust="spacingAndGlyphs">Anti-miR-17</text>
<rect x="177.80" y="208.87" width="12.70" height="30.03" fill="#6aab3e" stroke="none" stroke-width="0"/>
<line x1="184.15" y1="202.80" x2="184.15" y2="208.87" stroke="#222" stroke-width="1.0" />
<line x1="180.95" y1="202.80" x2="187.35" y2="202.80" stroke="#222" stroke-width="1.0" />
<line x1="184.15" y1="238.90" x2="184.15" y2="241.90" stroke="#1e1e1e" stroke-width="1.0" />
<text x="188.15" y="249.50" font-size="8.1" text-anchor="end" fill="#2f2f2f" stroke="#2f2f2f" stroke-width="0.2" transform="rotate(-45 188.15 249.50)" textLength="40.6" lengthAdjust="spacingAndGlyphs">Anti-miR-19</text>
<line x1="148.10" y1="182.40" x2="165.20" y2="182.40" stroke="#222" stroke-width="1.0" />
<circle cx="164.60" cy="179.00" r="1.1" fill="#1a1a1a"/>
<text x="120.2" y="209.2" font-size="9" text-anchor="middle" fill="#2f2f2f" stroke="#2f2f2f" stroke-width="0.2" transform="rotate(-90 120.2 209.2)" textLength="40.7" lengthAdjust="spacingAndGlyphs">% Fas<tspan font-size="5.5" dy="-3">+</tspan><tspan dy="3">GL7</tspan><tspan font-size="5.5" dy="-3">+</tspan></text>
<text x="164.50" y="171.70" font-size="9.9" text-anchor="middle" fill="#2f2f2f" font-weight="normal" textLength="43.5" lengthAdjust="spacingAndGlyphs" stroke="#2f2f2f" stroke-width="0.2" >GC B cells</text>
<line x1="234.00" y1="179.10" x2="234.00" y2="239.40" stroke="#1e1e1e" stroke-width="1.1" />
<line x1="230.50" y1="238.90" x2="234.00" y2="238.90" stroke="#1e1e1e" stroke-width="1.0" />
<text transform="translate(228.60 241.00) scale(0.9 1)" x="0" y="0" font-size="8.3" text-anchor="end" fill="#2f2f2f" font-weight="normal" stroke="#2f2f2f" stroke-width="0.2" >0.0</text>
<line x1="230.50" y1="224.75" x2="234.00" y2="224.75" stroke="#1e1e1e" stroke-width="1.0" />
<text transform="translate(228.60 226.85) scale(0.9 1)" x="0" y="0" font-size="8.3" text-anchor="end" fill="#2f2f2f" font-weight="normal" stroke="#2f2f2f" stroke-width="0.2" >0.5</text>
<line x1="230.50" y1="210.60" x2="234.00" y2="210.60" stroke="#1e1e1e" stroke-width="1.0" />
<text transform="translate(228.60 212.70) scale(0.9 1)" x="0" y="0" font-size="8.3" text-anchor="end" fill="#2f2f2f" font-weight="normal" stroke="#2f2f2f" stroke-width="0.2" >1.0</text>
<line x1="230.50" y1="196.45" x2="234.00" y2="196.45" stroke="#1e1e1e" stroke-width="1.0" />
<text transform="translate(228.60 198.55) scale(0.9 1)" x="0" y="0" font-size="8.3" text-anchor="end" fill="#2f2f2f" font-weight="normal" stroke="#2f2f2f" stroke-width="0.2" >1.5</text>
<line x1="230.50" y1="182.30" x2="234.00" y2="182.30" stroke="#1e1e1e" stroke-width="1.0" />
<text transform="translate(228.60 184.40) scale(0.9 1)" x="0" y="0" font-size="8.3" text-anchor="end" fill="#2f2f2f" font-weight="normal" stroke="#2f2f2f" stroke-width="0.2" >2.0</text>
<line x1="233.50" y1="238.90" x2="290.40" y2="238.90" stroke="#1e1e1e" stroke-width="1.1" />
<rect x="237.30" y="196.45" width="12.30" height="42.45" fill="#b3002d" stroke="none" stroke-width="0"/>
<line x1="243.45" y1="238.90" x2="243.45" y2="241.90" stroke="#1e1e1e" stroke-width="1.0" />
<text x="247.45" y="249.50" font-size="8.1" text-anchor="end" fill="#2f2f2f" stroke="#2f2f2f" stroke-width="0.2" transform="rotate(-45 247.45 249.50)" textLength="36.6" lengthAdjust="spacingAndGlyphs">Scrambled</text>
<rect x="256.10" y="228.15" width="12.30" height="10.75" fill="#2c4c86" stroke="none" stroke-width="0"/>
<line x1="262.25" y1="225.32" x2="262.25" y2="228.15" stroke="#222" stroke-width="1.0" />
<line x1="259.05" y1="225.32" x2="265.45" y2="225.32" stroke="#222" stroke-width="1.0" />
<line x1="262.25" y1="238.90" x2="262.25" y2="241.90" stroke="#1e1e1e" stroke-width="1.0" />
<text x="266.25" y="249.50" font-size="8.1" text-anchor="end" fill="#2f2f2f" stroke="#2f2f2f" stroke-width="0.2" transform="rotate(-45 266.25 249.50)" textLength="40.6" lengthAdjust="spacingAndGlyphs">Anti-miR-17</text>
<rect x="274.70" y="218.24" width="12.40" height="20.66" fill="#6aab3e" stroke="none" stroke-width="0"/>
<line x1="280.90" y1="213.71" x2="280.90" y2="218.24" stroke="#222" stroke-width="1.0" />
<line x1="277.70" y1="213.71" x2="284.10" y2="213.71" stroke="#222" stroke-width="1.0" />
<line x1="280.90" y1="238.90" x2="280.90" y2="241.90" stroke="#1e1e1e" stroke-width="1.0" />
<text x="284.90" y="249.50" font-size="8.1" text-anchor="end" fill="#2f2f2f" stroke="#2f2f2f" stroke-width="0.2" transform="rotate(-45 284.90 249.50)" textLength="40.6" lengthAdjust="spacingAndGlyphs">Anti-miR-19</text>
<line x1="246.70" y1="183.80" x2="278.60" y2="183.80" stroke="#222" stroke-width="1.0" />
<circle cx="277.20" cy="181.20" r="1.1" fill="#1a1a1a"/>
<line x1="246.70" y1="191.90" x2="263.60" y2="191.90" stroke="#222" stroke-width="1.0" />
<circle cx="257.60" cy="188.70" r="1.1" fill="#1a1a1a"/>
<circle cx="261.00" cy="188.70" r="1.1" fill="#1a1a1a"/>
<circle cx="264.40" cy="188.70" r="1.1" fill="#1a1a1a"/>
<text x="211.2" y="210.0" font-size="8.9" text-anchor="middle" fill="#2f2f2f" stroke="#2f2f2f" stroke-width="0.2" transform="rotate(-90 211.2 210.0)" textLength="62.6" lengthAdjust="spacingAndGlyphs">% B220<tspan font-size="5.5" dy="-3">low</tspan><tspan dy="3">CD138</tspan><tspan font-size="5.5" dy="-3">+</tspan></text>
<text x="260.80" y="171.70" font-size="9.9" text-anchor="middle" fill="#2f2f2f" font-weight="normal" textLength="50.6" lengthAdjust="spacingAndGlyphs" stroke="#2f2f2f" stroke-width="0.2" >Plasma cells</text>
<text transform="translate(305.30 160.60) scale(1.0 1)" x="0" y="0" font-size="10.4" text-anchor="start" fill="#111" font-weight="bold" stroke="#111" stroke-width="0.35" >F</text>
<line x1="347.60" y1="179.10" x2="347.60" y2="238.90" stroke="#1e1e1e" stroke-width="1.1" />
<line x1="344.10" y1="238.40" x2="347.60" y2="238.40" stroke="#1e1e1e" stroke-width="1.0" />
<text transform="translate(342.00 240.50) scale(0.9 1)" x="0" y="0" font-size="8.3" text-anchor="end" fill="#2f2f2f" font-weight="normal" stroke="#2f2f2f" stroke-width="0.2" >0</text>
<line x1="344.10" y1="219.70" x2="347.60" y2="219.70" stroke="#1e1e1e" stroke-width="1.0" />
<text transform="translate(342.00 221.80) scale(0.9 1)" x="0" y="0" font-size="8.3" text-anchor="end" fill="#2f2f2f" font-weight="normal" stroke="#2f2f2f" stroke-width="0.2" >10000</text>
<line x1="344.10" y1="201.00" x2="347.60" y2="201.00" stroke="#1e1e1e" stroke-width="1.0" />
<text transform="translate(342.00 203.10) scale(0.9 1)" x="0" y="0" font-size="8.3" text-anchor="end" fill="#2f2f2f" font-weight="normal" stroke="#2f2f2f" stroke-width="0.2" >20000</text>
<line x1="344.10" y1="182.30" x2="347.60" y2="182.30" stroke="#1e1e1e" stroke-width="1.0" />
<text transform="translate(342.00 184.40) scale(0.9 1)" x="0" y="0" font-size="8.3" text-anchor="end" fill="#2f2f2f" font-weight="normal" stroke="#2f2f2f" stroke-width="0.2" >30000</text>
<line x1="347.10" y1="238.40" x2="404.50" y2="238.40" stroke="#1e1e1e" stroke-width="1.1" />
<rect x="351.00" y="190.34" width="12.60" height="48.06" fill="#b3002d" stroke="none" stroke-width="0"/>
<line x1="357.30" y1="189.97" x2="357.30" y2="190.34" stroke="#222" stroke-width="1.0" />
<line x1="354.10" y1="189.97" x2="360.50" y2="189.97" stroke="#222" stroke-width="1.0" />
<line x1="357.30" y1="238.40" x2="357.30" y2="241.40" stroke="#1e1e1e" stroke-width="1.0" />
<text x="361.30" y="249.00" font-size="8.1" text-anchor="end" fill="#2f2f2f" stroke="#2f2f2f" stroke-width="0.2" transform="rotate(-45 361.30 249.00)" textLength="36.6" lengthAdjust="spacingAndGlyphs">Scrambled</text>
<rect x="369.90" y="209.45" width="12.20" height="28.95" fill="#2c4c86" stroke="none" stroke-width="0"/>
<line x1="376.00" y1="208.26" x2="376.00" y2="209.45" stroke="#222" stroke-width="1.0" />
<line x1="372.80" y1="208.26" x2="379.20" y2="208.26" stroke="#222" stroke-width="1.0" />
<line x1="376.00" y1="238.40" x2="376.00" y2="241.40" stroke="#1e1e1e" stroke-width="1.0" />
<text x="380.00" y="249.00" font-size="8.1" text-anchor="end" fill="#2f2f2f" stroke="#2f2f2f" stroke-width="0.2" transform="rotate(-45 380.00 249.00)" textLength="40.6" lengthAdjust="spacingAndGlyphs">Anti-miR-17</text>
<rect x="388.30" y="198.14" width="12.50" height="40.26" fill="#6aab3e" stroke="none" stroke-width="0"/>
<line x1="394.55" y1="193.71" x2="394.55" y2="198.14" stroke="#222" stroke-width="1.0" />
<line x1="391.35" y1="193.71" x2="397.75" y2="193.71" stroke="#222" stroke-width="1.0" />
<line x1="394.55" y1="238.40" x2="394.55" y2="241.40" stroke="#1e1e1e" stroke-width="1.0" />
<text x="398.55" y="249.00" font-size="8.1" text-anchor="end" fill="#2f2f2f" stroke="#2f2f2f" stroke-width="0.2" transform="rotate(-45 398.55 249.00)" textLength="40.6" lengthAdjust="spacingAndGlyphs">Anti-miR-19</text>
<line x1="357.30" y1="186.20" x2="374.60" y2="186.20" stroke="#222" stroke-width="1.0" />
<circle cx="364.90" cy="182.80" r="1.1" fill="#1a1a1a"/>
<circle cx="368.30" cy="182.80" r="1.1" fill="#1a1a1a"/>
<circle cx="371.70" cy="182.80" r="1.1" fill="#1a1a1a"/>
<line x1="377.50" y1="191.90" x2="394.00" y2="191.90" stroke="#222" stroke-width="1.0" />
<circle cx="385.00" cy="188.60" r="1.1" fill="#1a1a1a"/>
<text x="313.60" y="209.10" font-size="9.0" text-anchor="middle" fill="#2f2f2f" stroke="#2f2f2f" stroke-width="0.2" transform="rotate(-90 313.60 209.10)" textLength="12.6" lengthAdjust="spacingAndGlyphs">MFI</text>
<text x="375.60" y="171.70" font-size="9.9" text-anchor="middle" fill="#2f2f2f" font-weight="normal" textLength="29.7" lengthAdjust="spacingAndGlyphs" stroke="#2f2f2f" stroke-width="0.2" >MHC-II</text>
<line x1="442.30" y1="179.60" x2="442.30" y2="239.10" stroke="#1e1e1e" stroke-width="1.1" />
<line x1="438.80" y1="238.60" x2="442.30" y2="238.60" stroke="#1e1e1e" stroke-width="1.0" />
<text transform="translate(437.00 240.70) scale(0.9 1)" x="0" y="0" font-size="8.3" text-anchor="end" fill="#2f2f2f" font-weight="normal" stroke="#2f2f2f" stroke-width="0.2" >0</text>
<line x1="438.80" y1="224.65" x2="442.30" y2="224.65" stroke="#1e1e1e" stroke-width="1.0" />
<text transform="translate(437.00 226.75) scale(0.9 1)" x="0" y="0" font-size="8.3" text-anchor="end" fill="#2f2f2f" font-weight="normal" stroke="#2f2f2f" stroke-width="0.2" >50</text>
<line x1="438.80" y1="210.70" x2="442.30" y2="210.70" stroke="#1e1e1e" stroke-width="1.0" />
<text transform="translate(437.00 212.80) scale(0.9 1)" x="0" y="0" font-size="8.3" text-anchor="end" fill="#2f2f2f" font-weight="normal" stroke="#2f2f2f" stroke-width="0.2" >100</text>
<line x1="438.80" y1="196.75" x2="442.30" y2="196.75" stroke="#1e1e1e" stroke-width="1.0" />
<text transform="translate(437.00 198.85) scale(0.9 1)" x="0" y="0" font-size="8.3" text-anchor="end" fill="#2f2f2f" font-weight="normal" stroke="#2f2f2f" stroke-width="0.2" >150</text>
<line x1="438.80" y1="182.80" x2="442.30" y2="182.80" stroke="#1e1e1e" stroke-width="1.0" />
<text transform="translate(437.00 184.90) scale(0.9 1)" x="0" y="0" font-size="8.3" text-anchor="end" fill="#2f2f2f" font-weight="normal" stroke="#2f2f2f" stroke-width="0.2" >200</text>
<line x1="441.80" y1="238.60" x2="500.00" y2="238.60" stroke="#1e1e1e" stroke-width="1.1" />
<rect x="446.30" y="196.89" width="12.70" height="41.71" fill="#b3002d" stroke="none" stroke-width="0"/>
<line x1="452.65" y1="190.89" x2="452.65" y2="196.89" stroke="#222" stroke-width="1.0" />
<line x1="449.45" y1="190.89" x2="455.85" y2="190.89" stroke="#222" stroke-width="1.0" />
<line x1="452.65" y1="238.60" x2="452.65" y2="241.60" stroke="#1e1e1e" stroke-width="1.0" />
<text x="456.65" y="249.20" font-size="8.1" text-anchor="end" fill="#2f2f2f" stroke="#2f2f2f" stroke-width="0.2" transform="rotate(-45 456.65 249.20)" textLength="36.6" lengthAdjust="spacingAndGlyphs">Scrambled</text>
<rect x="465.10" y="210.98" width="12.30" height="27.62" fill="#2c4c86" stroke="none" stroke-width="0"/>
<line x1="471.25" y1="208.75" x2="471.25" y2="210.98" stroke="#222" stroke-width="1.0" />
<line x1="468.05" y1="208.75" x2="474.45" y2="208.75" stroke="#222" stroke-width="1.0" />
<line x1="471.25" y1="238.60" x2="471.25" y2="241.60" stroke="#1e1e1e" stroke-width="1.0" />
<text x="475.25" y="249.20" font-size="8.1" text-anchor="end" fill="#2f2f2f" stroke="#2f2f2f" stroke-width="0.2" transform="rotate(-45 475.25 249.20)" textLength="40.6" lengthAdjust="spacingAndGlyphs">Anti-miR-17</text>
<rect x="484.00" y="202.47" width="12.30" height="36.13" fill="#6aab3e" stroke="none" stroke-width="0"/>
<line x1="490.15" y1="199.96" x2="490.15" y2="202.47" stroke="#222" stroke-width="1.0" />
<line x1="486.95" y1="199.96" x2="493.35" y2="199.96" stroke="#222" stroke-width="1.0" />
<line x1="490.15" y1="238.60" x2="490.15" y2="241.60" stroke="#1e1e1e" stroke-width="1.0" />
<text x="494.15" y="249.20" font-size="8.1" text-anchor="end" fill="#2f2f2f" stroke="#2f2f2f" stroke-width="0.2" transform="rotate(-45 494.15 249.20)" textLength="40.6" lengthAdjust="spacingAndGlyphs">Anti-miR-19</text>
<line x1="453.30" y1="185.50" x2="470.60" y2="185.50" stroke="#222" stroke-width="1.0" />
<circle cx="463.10" cy="182.30" r="1.1" fill="#1a1a1a"/>
<line x1="472.10" y1="197.60" x2="489.00" y2="197.60" stroke="#222" stroke-width="1.0" />
<circle cx="481.00" cy="194.20" r="1.1" fill="#1a1a1a"/>
<text x="418.50" y="208.80" font-size="9.0" text-anchor="middle" fill="#2f2f2f" stroke="#2f2f2f" stroke-width="0.2" transform="rotate(-90 418.50 208.80)" textLength="12.0" lengthAdjust="spacingAndGlyphs">MFI</text>
<text x="469.20" y="171.70" font-size="9.9" text-anchor="middle" fill="#2f2f2f" font-weight="normal" textLength="24.6" lengthAdjust="spacingAndGlyphs" stroke="#2f2f2f" stroke-width="0.2" >CD86</text>
</svg>
<div class="bd"></div>
</div>
</body></html>
